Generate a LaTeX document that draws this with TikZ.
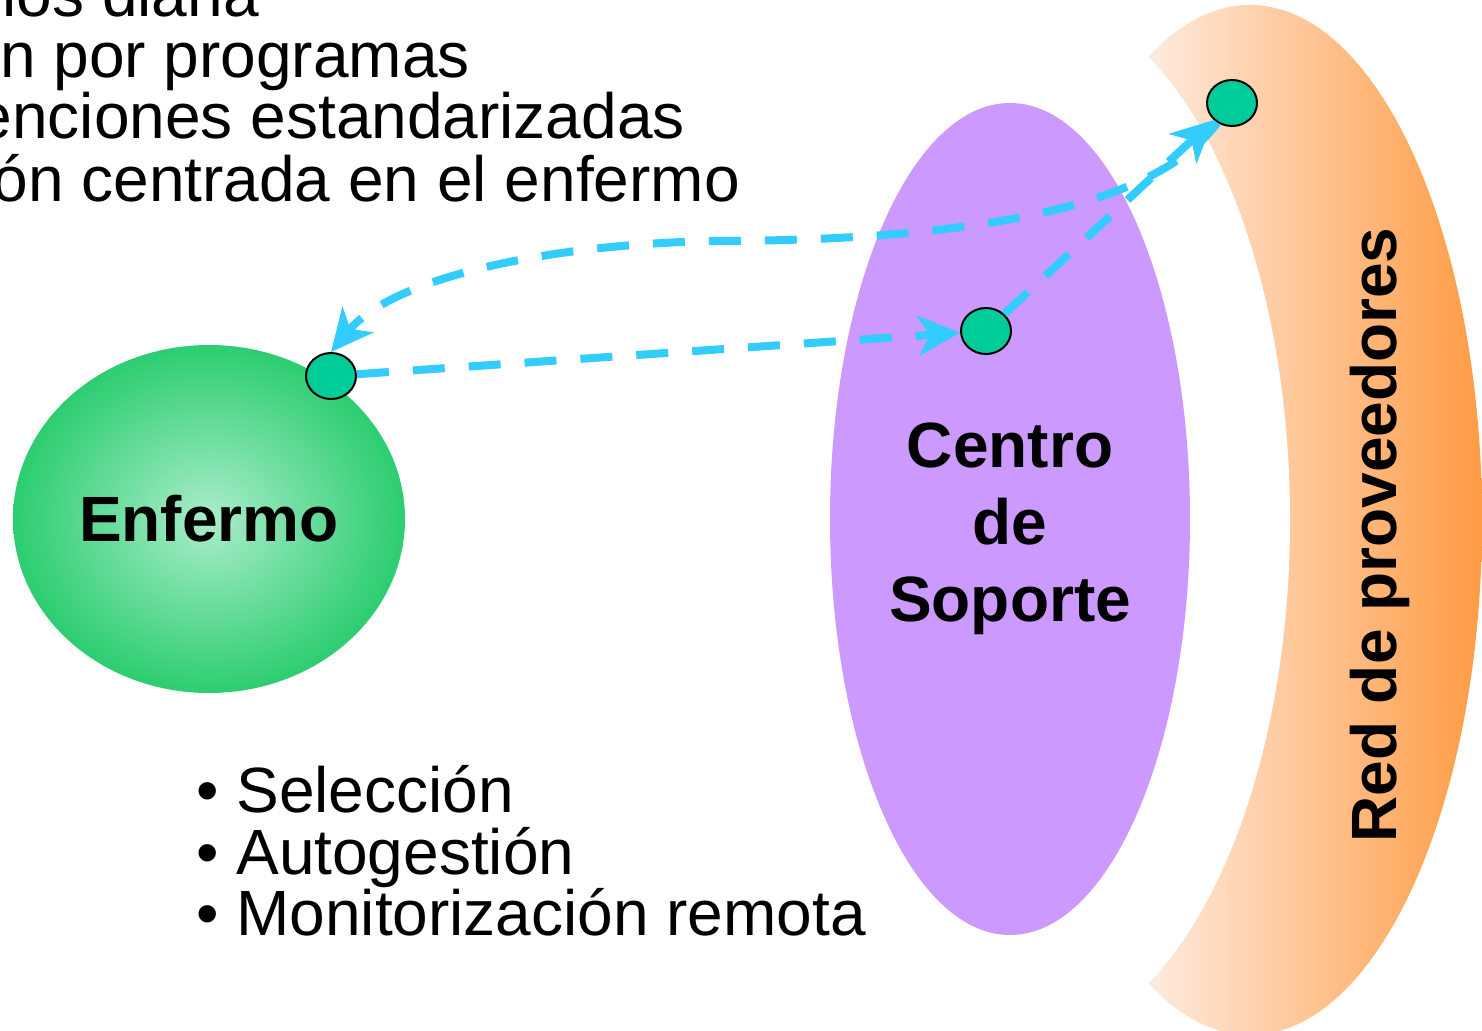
\documentclass[tikz,border=0pt]{standalone}
\usepackage{fontspec}
\setmainfont{Liberation Sans}
\usetikzlibrary{shapes.geometric,arrows.meta}
\definecolor{purpleC}{RGB}{204,153,255}
\definecolor{dotG}{RGB}{0,204,153}
\definecolor{arrowC}{RGB}{51,204,255}
\definecolor{enfIn}{RGB}{170,237,202}
\definecolor{enfOut}{RGB}{24,200,98}
\definecolor{crL}{RGB}{254,237,226}
\definecolor{crR}{RGB}{255,155,68}
\pgfdeclareradialshading{enfshade}{\pgfpoint{0bp}{0bp}}{color(0bp)=(enfIn); color(29bp)=(enfOut); color(50bp)=(enfOut)}
\begin{document}
\begin{tikzpicture}[x=1pt,y=-1pt,
  bigfont/.style={font=\fontsize{64}{77}\selectfont\bfseries},
  txt/.style={font=\fontsize{64}{61}\selectfont, inner sep=0pt},
  dot/.style={ellipse, minimum width=50pt, minimum height=46pt, inner sep=0pt, fill=dotG, draw=black, line width=2pt},
  conn/.style={draw=arrowC, line width=8pt, dash pattern=on 32pt off 24pt, -{Stealth[length=42pt,width=40pt,inset=12pt]}}]
\useasboundingbox (0,0) rectangle (1482,1030);
\fill[white] (0,0) rectangle (1482,1030);
% crescent: Red de proveedores
\begin{scope}
  \clip (1250,520) ellipse [x radius=232pt, y radius=515pt];
  \shade[left color=crL, right color=crR] (1140,0) rectangle (1482,1040);
  \fill[white] (1030,520) ellipse [x radius=260pt, y radius=520pt];
\end{scope}
\node[bigfont, rotate=90, anchor=base, inner sep=0pt] (red) at (1396,535) {Red de proveedores};
% big ellipses
\node[ellipse, fill=purpleC, minimum width=360pt, minimum height=832pt, inner sep=0pt] (centro) at (1010,519) {};
\node[bigfont, align=center, inner sep=0pt] (centrotxt) at (1010,529) {Centro\\de\\Soporte};
\node[ellipse, shade, shading=enfshade, minimum width=392pt, minimum height=348pt, inner sep=0pt, bigfont] (enf) at (209,519) {Enfermo};
% dots
\node[dot] (d1) at (331,376) {};
\node[dot] (d2) at (986,331) {};
\node[dot] (d3) at (1232,103) {};
\coordinate (mid) at (720,241);
% connectors
\draw[conn] (d1) -- (d2);
\draw[conn] (d2) -- (d3);
\draw[conn] (d3) .. controls (1160,200) and (1000,240) .. (mid) .. controls (560,243) and (395,275) .. (d1.north);
% texts
\node[txt, anchor=base east] (t1) at (259,17) {ios diana};
\node[txt, anchor=base east] (t2) at (470,78) {n por programas};
\node[txt, anchor=base east] (t3) at (685,139) {enciones estandarizadas};
\node[txt, anchor=base east] (t4) at (740,201) {ón centrada en el enfermo};
\node[txt, anchor=base west] (b1) at (196,812) {• Selección};
\node[txt, anchor=base west] (b2) at (196,874) {• Autogestión};
\node[txt, anchor=base west] (b3) at (196,935) {• Monitorización remota};
\end{tikzpicture}
\end{document}
